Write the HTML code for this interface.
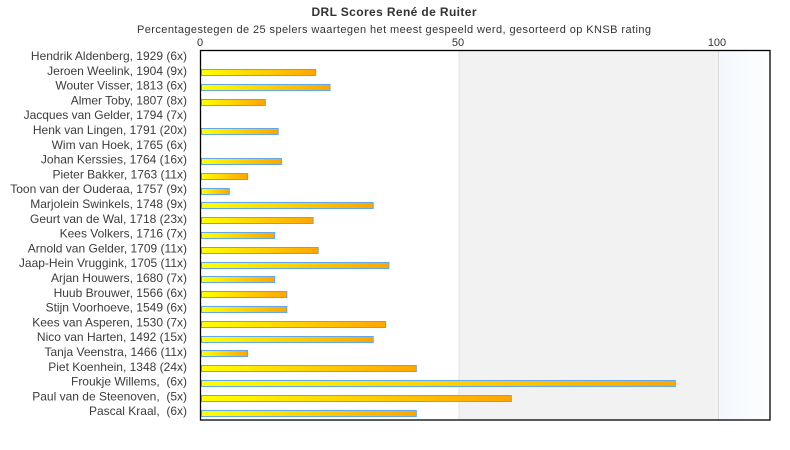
<!DOCTYPE html>
<html><head><meta charset="utf-8"><style>
html,body{margin:0;padding:0;background:#fff;}
svg{display:block;}
text{font-family:"Liberation Sans",sans-serif;fill:#333;}
.lbl text{fill:#3c3c3c;}
</style></head><body>
<svg width="790" height="450" viewBox="0 0 790 450" xmlns="http://www.w3.org/2000/svg">
<defs>
<linearGradient id="bg" x1="0" y1="0" x2="1" y2="0">
<stop offset="0" stop-color="#ffff00"/><stop offset="1" stop-color="#ffa500"/>
</linearGradient>
<linearGradient id="blue" x1="0" y1="0" x2="1" y2="0">
<stop offset="0" stop-color="#f3f7fc"/><stop offset="1" stop-color="#fdfeff"/>
</linearGradient>
</defs>
<text x="394" y="16" text-anchor="middle" font-size="12" font-weight="bold" textLength="165" lengthAdjust="spacing">DRL Scores René de Ruiter</text>
<text x="394" y="33" text-anchor="middle" font-size="11" textLength="514" lengthAdjust="spacing">Percentagestegen de 25 spelers waartegen het meest gespeeld werd, gesorteerd op KNSB rating</text>
<text x="200" y="46" text-anchor="middle" font-size="11">0</text>
<text x="458" y="46" text-anchor="middle" font-size="11">50</text>
<text x="717" y="46" text-anchor="middle" font-size="11">100</text>
<rect x="459" y="50" width="259" height="370" fill="#f2f2f2"/>
<rect x="718" y="50" width="52" height="370" fill="url(#blue)"/>
<line x1="459" y1="50" x2="459" y2="420" stroke="#e2e2e2" stroke-width="1"/>
<line x1="718.5" y1="50" x2="718.5" y2="420" stroke="#dcdcdc" stroke-width="1"/>
<g class="lbl" font-size="12" text-anchor="end">
<text x="187" y="60">Hendrik Aldenberg, 1929 (6x)</text>
<text x="187" y="74.8">Jeroen Weelink, 1904 (9x)</text>
<text x="187" y="89.6">Wouter Visser, 1813 (6x)</text>
<text x="187" y="104.4">Almer Toby, 1807 (8x)</text>
<text x="187" y="119.2">Jacques van Gelder, 1794 (7x)</text>
<text x="187" y="134">Henk van Lingen, 1791 (20x)</text>
<text x="187" y="148.8">Wim van Hoek, 1765 (6x)</text>
<text x="187" y="163.6">Johan Kerssies, 1764 (16x)</text>
<text x="187" y="178.4">Pieter Bakker, 1763 (11x)</text>
<text x="187" y="193.2">Toon van der Ouderaa, 1757 (9x)</text>
<text x="187" y="208">Marjolein Swinkels, 1748 (9x)</text>
<text x="187" y="222.8">Geurt van de Wal, 1718 (23x)</text>
<text x="187" y="237.6">Kees Volkers, 1716 (7x)</text>
<text x="187" y="252.4">Arnold van Gelder, 1709 (11x)</text>
<text x="187" y="267.2">Jaap-Hein Vruggink, 1705 (11x)</text>
<text x="187" y="282">Arjan Houwers, 1680 (7x)</text>
<text x="187" y="296.8">Huub Brouwer, 1566 (6x)</text>
<text x="187" y="311.6">Stijn Voorhoeve, 1549 (6x)</text>
<text x="187" y="326.4">Kees van Asperen, 1530 (7x)</text>
<text x="187" y="341.2">Nico van Harten, 1492 (15x)</text>
<text x="187" y="356">Tanja Veenstra, 1466 (11x)</text>
<text x="187" y="370.8">Piet Koenhein, 1348 (24x)</text>
<text x="187" y="385.6">Froukje Willems,&#160; (6x)</text>
<text x="187" y="400.4">Paul van de Steenoven,&#160; (5x)</text>
<text x="187" y="415.2">Pascal Kraal,&#160; (6x)</text>
</g>
<g fill="url(#bg)" stroke="#62a8ec" stroke-width="1">
<rect x="201.5" y="69.5" width="114.1" height="6"/>
<rect x="201.5" y="84.5" width="128.5" height="6"/>
<rect x="201.5" y="99.5" width="63.8" height="6"/>
<rect x="201.5" y="128.5" width="76.7" height="6"/>
<rect x="201.5" y="158.5" width="79.9" height="6"/>
<rect x="201.5" y="173.5" width="46.1" height="6"/>
<rect x="201.5" y="188.5" width="27.8" height="6"/>
<rect x="201.5" y="202.5" width="171.7" height="6"/>
<rect x="201.5" y="217.5" width="111.6" height="6"/>
<rect x="201.5" y="232.5" width="73" height="6"/>
<rect x="201.5" y="247.5" width="116.7" height="6"/>
<rect x="201.5" y="262.5" width="187.4" height="6"/>
<rect x="201.5" y="276.5" width="73" height="6"/>
<rect x="201.5" y="291.5" width="85.3" height="6"/>
<rect x="201.5" y="306.5" width="85.3" height="6"/>
<rect x="201.5" y="321.5" width="184" height="6"/>
<rect x="201.5" y="336.5" width="171.7" height="6"/>
<rect x="201.5" y="350.5" width="46.1" height="6"/>
<rect x="201.5" y="365.5" width="214.8" height="6"/>
<rect x="201.5" y="380.5" width="473.8" height="6"/>
<rect x="201.5" y="395.5" width="309.8" height="6"/>
<rect x="201.5" y="410.5" width="214.8" height="6"/>
</g>
<rect x="200.5" y="50.5" width="569.5" height="369.5" fill="none" stroke="#000" stroke-width="1.3"/>
</svg>
</body></html>
